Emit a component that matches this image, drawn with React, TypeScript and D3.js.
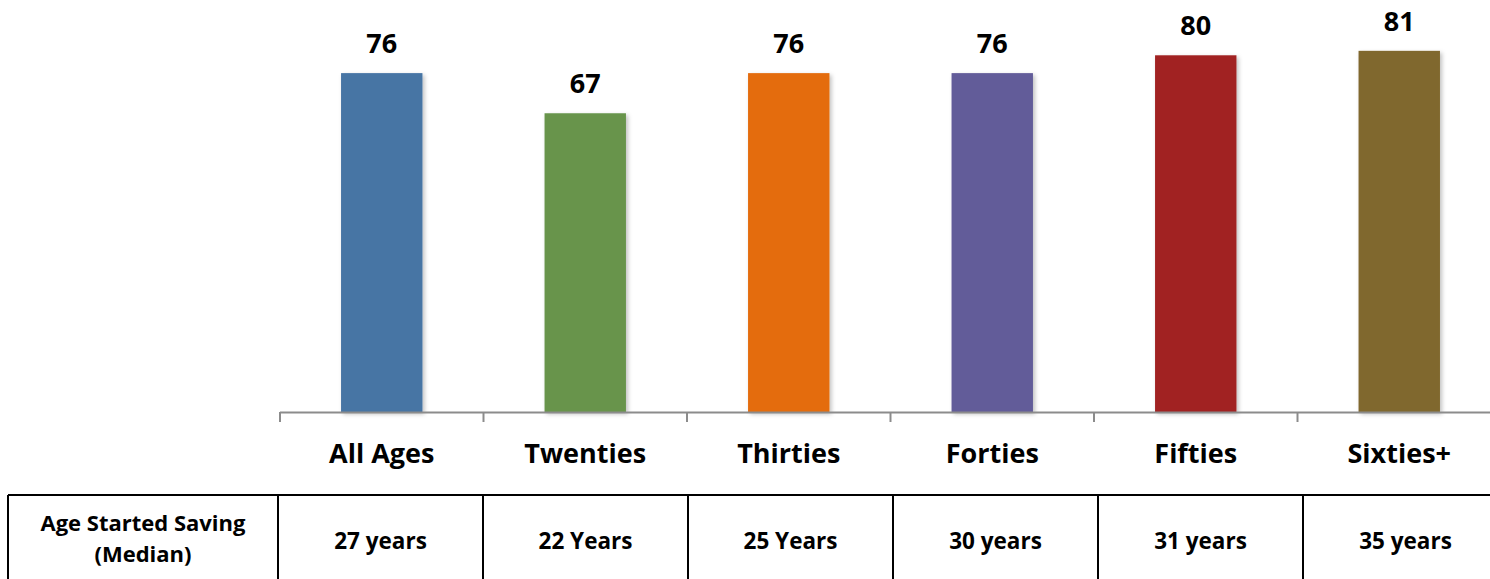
import React, { useEffect, useRef } from 'react';
import * as d3 from 'd3';

const categories = ['All Ages', 'Twenties', 'Thirties', 'Forties', 'Fifties', 'Sixties+'];
const values = [76, 67, 76, 76, 80, 81];
const barColors = ['#4674A4', '#67944C', '#E46C0A', '#625C99', '#A12223', '#80672E'];
const savingAges = ['27 years', '22 Years', '25 Years', '30 years', '31 years', '35 years'];
const rowHeader = ['Age Started Saving', '(Median)'];

const FONT = "'Open Sans', 'Noto Sans', sans-serif";

const App: React.FC = () => {
  const svgRef = useRef<SVGSVGElement | null>(null);

  useEffect(() => {
    if (!svgRef.current) return;

    const width = 1490;
    const height = 579;
    const axisY = 412;

    const svg = d3.select(svgRef.current).attr('width', width).attr('height', height);
    svg.selectAll('*').remove();

    const defs = svg.append('defs');
    const shadow = defs
      .append('filter')
      .attr('id', 'barShadow')
      .attr('x', '-10%')
      .attr('y', '-10%')
      .attr('width', '130%')
      .attr('height', '130%');
    shadow
      .append('feDropShadow')
      .attr('dx', 2)
      .attr('dy', 2)
      .attr('stdDeviation', 2)
      .attr('flood-color', '#000')
      .attr('flood-opacity', 0.25);

    const xScale = d3
      .scaleBand<string>()
      .domain(categories)
      .range([280, 1501])
      .paddingInner(0.6)
      .paddingOuter(0.3);

    const yScale = d3.scaleLinear().domain([0, 92.4]).range([axisY, 0]);

    // bars
    svg
      .append('g')
      .selectAll('rect')
      .data(values)
      .enter()
      .append('rect')
      .attr('x', (d, i) => xScale(categories[i])!)
      .attr('y', (d) => yScale(d))
      .attr('width', xScale.bandwidth())
      .attr('height', (d) => axisY - yScale(d))
      .attr('fill', (d, i) => barColors[i])
      .attr('filter', 'url(#barShadow)');

    // value labels
    svg
      .append('g')
      .selectAll('text')
      .data(values)
      .enter()
      .append('text')
      .attr('x', (d, i) => xScale(categories[i])! + xScale.bandwidth() / 2)
      .attr('y', (d) => yScale(d) - 20)
      .attr('text-anchor', 'middle')
      .attr('font-family', FONT)
      .attr('font-weight', 700)
      .attr('font-size', 27)
      .attr('fill', '#000')
      .text((d) => d);

    // x axis: line + ticks between categories
    const step = xScale.step();
    const axisLeft = 280;
    const axis = svg.append('g');
    axis
      .append('line')
      .attr('x1', axisLeft)
      .attr('x2', width)
      .attr('y1', axisY + 0.5)
      .attr('y2', axisY + 0.5)
      .attr('stroke', '#8c8c8c')
      .attr('stroke-width', 2);
    d3.range(categories.length + 1).forEach((i) => {
      axis
        .append('line')
        .attr('x1', axisLeft + i * step)
        .attr('x2', axisLeft + i * step)
        .attr('y1', axisY)
        .attr('y2', axisY + 10)
        .attr('stroke', '#8c8c8c')
        .attr('stroke-width', 2);
    });

    axis
      .selectAll('text.cat')
      .data(categories)
      .enter()
      .append('text')
      .attr('class', 'cat')
      .attr('x', (d) => xScale(d)! + xScale.bandwidth() / 2)
      .attr('y', 463)
      .attr('text-anchor', 'middle')
      .attr('font-family', FONT)
      .attr('font-weight', 700)
      .attr('font-size', 27)
      .attr('fill', '#000')
      .text((d) => d);

    // table
    const tableTop = 495;
    const colScale = d3
      .scaleBand<string>()
      .domain(categories)
      .range([278, 1508]);
    const table = svg.append('g');
    table
      .append('line')
      .attr('x1', 8)
      .attr('x2', width)
      .attr('y1', tableTop)
      .attr('y2', tableTop)
      .attr('stroke', '#000')
      .attr('stroke-width', 2);
    const vLines = [8, ...categories.map((c) => colScale(c)!)];
    table
      .selectAll('line.v')
      .data(vLines)
      .enter()
      .append('line')
      .attr('class', 'v')
      .attr('x1', (d) => d)
      .attr('x2', (d) => d)
      .attr('y1', tableTop)
      .attr('y2', height + 5)
      .attr('stroke', '#000')
      .attr('stroke-width', 2);

    table
      .selectAll('text.age')
      .data(savingAges)
      .enter()
      .append('text')
      .attr('class', 'age')
      .attr('x', (d, i) => colScale(categories[i])! + colScale.bandwidth() / 2)
      .attr('y', 549)
      .attr('text-anchor', 'middle')
      .attr('font-family', FONT)
      .attr('font-weight', 700)
      .attr('font-size', 22.5)
      .attr('fill', '#000')
      .text((d) => d);

    table
      .selectAll('text.hdr')
      .data(rowHeader)
      .enter()
      .append('text')
      .attr('class', 'hdr')
      .attr('x', 143)
      .attr('y', (d, i) => 531 + i * 31)
      .attr('text-anchor', 'middle')
      .attr('font-family', FONT)
      .attr('font-weight', 700)
      .attr('font-size', 22)
      .attr('fill', '#000')
      .text((d) => d);
  }, []);

  return (
    <div style={{ position: 'absolute', left: 0, top: 0 }}>
      <svg ref={svgRef} style={{ display: 'block' }}></svg>
    </div>
  );
};

export default App;
